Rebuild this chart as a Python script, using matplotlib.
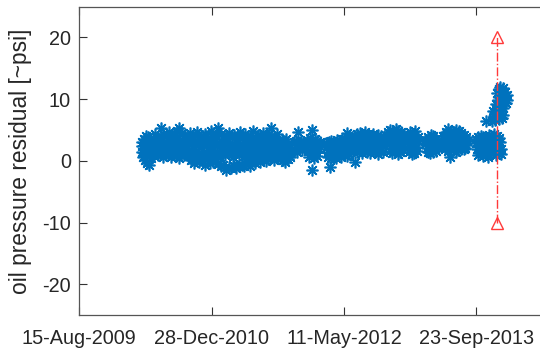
import numpy as np
import matplotlib
matplotlib.use("Agg")
import matplotlib.pyplot as plt
import matplotlib.dates as mdates

plt.rcParams['font.family'] = ['Liberation Sans', 'DejaVu Sans']
plt.rcParams['axes.unicode_minus'] = False

START = '2009-08-15'   # reference date; days below are counted from it

# ---- measured residuals, grouped by operating period (day offset, value) ----
days_c1 = [236, 244, 252, 260, 268, 276, 239, 247, 255, 263, 271, 279,
           237, 245, 253, 261, 269, 277, 241, 249, 257, 265, 273, 281]
resid_c1 = [3.0, 3.6, 4.1, 3.8, 3.4, 2.9, 2.4, 2.7, 2.9, 2.6, 2.8, 2.3,
            1.5, 1.2, 1.8, 1.4, 1.6, 1.3, 0.6, 0.2, -0.4, -0.7, 0.4, 0.8]

days_c2 = [288, 298, 308, 318, 328, 338, 348, 358, 368, 378, 388, 398, 408,
           291, 301, 311, 321, 331, 341, 351, 361, 371, 381, 391, 401, 411,
           294, 304, 314, 324, 334, 344, 354, 364, 374, 384, 394, 404, 414,
           296, 306, 316, 326, 336, 346, 356, 366, 376, 386, 396, 406, 412]
resid_c2 = [4.3, 3.9, 5.4, 4.4, 4.0, 4.6, 3.8, 4.2, 4.8, 5.3, 4.5, 4.1, 3.7,
            3.2, 2.8, 3.4, 3.0, 2.7, 3.3, 2.9, 3.1, 3.5, 2.8, 3.2, 3.0, 2.9,
            1.9, 2.2, 1.6, 2.0, 1.8, 2.3, 1.5, 2.1, 1.7, 2.4, 1.6, 2.0, 1.8,
            0.9, 1.2, 0.6, 1.0, 1.3, 0.7, 1.1, 0.8, 0.5, 1.0, 0.9, 1.2, 0.8]

days_c3 = [420, 426, 436, 446, 456, 466, 476, 486, 496, 506, 516, 526, 536, 546, 556, 566, 576,
           586, 596, 606, 616, 626, 636, 646, 656, 666, 676, 686, 696, 706, 716, 726, 736, 746,
           423, 429, 439, 449, 459, 469, 479, 489, 499, 509, 519, 529, 539, 549, 559, 569, 579,
           589, 599, 609, 619, 629, 639, 649, 659, 669, 679, 689, 699, 709, 719, 729, 739, 749,
           422, 432, 442, 452, 462, 472, 482, 492, 502, 512, 522, 532, 542, 552, 562, 572, 582,
           592, 602, 612, 622, 632, 642, 652, 662, 672, 682, 692, 702, 712, 722, 732, 742, 750,
           424, 434, 444, 454, 464, 474, 484, 494, 504, 514, 524, 534, 544, 554, 564, 574, 584,
           594, 604, 614, 624, 634, 644, 654, 664, 674, 684, 694, 704, 714, 724, 734, 744, 748]
resid_c3 = [4.5, 3.8, 4.2, 4.7, 3.6, 4.0, 4.4, 3.7, 4.9, 4.1, 4.1, 5.4, 4.3, 3.6, 4.0, 4.5, 3.8,
            4.2, 3.5, 4.6, 3.9, 4.4, 3.7, 4.1, 4.8, 3.6, 4.2, 4.0, 4.5, 3.8, 4.3, 5.4, 3.9, 4.4,
            2.9, 2.4, 3.1, 2.6, 2.2, 3.0, 2.7, 2.3, 2.8, 3.2, 2.5, 2.9, 2.1, 2.7, 3.0, 2.4, 2.8,
            2.2, 3.1, 2.6, 2.3, 2.9, 2.5, 3.0, 2.2, 2.7, 3.1, 2.4, 2.8, 3.2, 2.6, 2.9, 3.3, 3.0,
            1.3, 0.9, 1.6, 1.1, 0.7, 1.5, 1.2, 0.8, 1.7, 1.0, 1.4, 0.6, 1.3, 0.9, 1.6, 1.1, 0.7,
            1.4, 1.0, 1.5, 0.8, 1.2, 1.6, 0.9, 1.3, 1.1, 1.7, 1.0, 1.4, 1.2, 1.8, 1.5, 1.9, 1.6,
            0.2, -0.4, 0.5, -0.2, 0.1, -0.6, 0.3, -0.3, -0.1, 0.4, -0.5, -0.8, -0.7, -1.5, -1.0, -1.1, -0.9,
            -1.2, -0.8, -0.6, -0.9, 0.0, -0.8, 0.2, -0.3, 0.4, -0.1, 0.5, 0.0, 0.3, 0.6, 0.2, 0.8, 0.5]

days_c4 = [760, 766, 774, 782, 790, 761, 769, 777, 785, 793,
           762, 768, 776, 784, 792, 763, 771, 779, 787, 795]
resid_c4 = [2.9, 3.4, 3.2, 3.5, 2.8, 2.2, 2.5, 2.0, 2.4, 2.1,
            1.3, 0.9, 1.5, 1.1, 1.4, 0.5, 0.1, -0.1, 0.3, 0.6]

days_c5 = [812, 820, 828, 836, 844, 850, 816, 824, 832, 840, 848]
resid_c5 = [3.0, 3.3, 4.6, 3.2, 2.9, 2.5, 1.8, 1.5, 2.1, 1.7, 2.2]

days_c6 = [860, 870, 880, 890, 900, 908, 863, 873, 883, 893, 903,
           866, 876, 886, 896, 906, 868, 878, 888, 898]
resid_c6 = [3.4, 3.7, 5.0, 3.6, 3.2, 3.0, 2.6, 2.9, 2.4, 2.8, 2.5,
            1.6, 1.2, 1.8, 1.4, 1.9, 0.6, -1.4, 0.4, 0.8]

days_c7 = [932, 942, 952, 962, 972, 982, 992, 1002, 1012, 1022,
           935, 945, 955, 965, 975, 985, 995, 1005, 1015, 1025,
           938, 948, 958, 968, 978, 988, 998, 1008, 1018,
           940, 950, 960, 970, 980, 990, 1000, 1010, 1020, 946]
resid_c7 = [2.9, 3.1, 3.3, 3.0, 3.4, 3.2, 3.5, 3.6, 4.5, 3.7,
            2.3, 2.5, 2.2, 2.6, 2.4, 2.7, 2.5, 2.8, 2.6, 2.9,
            1.5, 1.2, 1.6, 1.3, 1.7, 1.4, 1.8, 1.5, 1.9,
            0.7, 0.4, 0.8, 0.5, 0.9, 0.6, 1.0, 0.8, 1.1, -1.0]

days_c8 = [1030, 1040, 1050, 1060, 1070, 1080, 1090, 1100, 1110, 1120, 1130, 1140, 1150,
           1033, 1043, 1053, 1063, 1073, 1083, 1093, 1103, 1113, 1123, 1133, 1143, 1153,
           1036, 1046, 1056, 1066, 1076, 1086, 1096, 1106, 1116, 1126, 1136, 1146, 1156,
           1038, 1048, 1058, 1068, 1078, 1088, 1098, 1108, 1118, 1128, 1138, 1148, 1041]
resid_c8 = [3.8, 4.1, 4.3, 4.5, 4.2, 4.6, 4.4, 4.1, 4.3, 3.9, 4.2, 4.0, 3.8,
            3.2, 3.5, 3.3, 3.7, 3.4, 3.6, 3.2, 3.5, 3.3, 3.6, 3.1, 3.4, 3.0,
            2.5, 2.8, 2.3, 2.7, 2.4, 2.9, 2.6, 2.3, 2.8, 2.5, 2.2, 2.6, 2.4,
            1.7, 1.4, 1.6, 1.3, 1.8, 1.5, 1.2, 1.7, 1.4, 1.1, 1.6, 1.5, -0.2]

days_c9 = [1165, 1175, 1185, 1195, 1205, 1215, 1225,
           1168, 1178, 1188, 1198, 1208, 1218, 1228,
           1171, 1181, 1191, 1201, 1211, 1221,
           1173, 1183, 1193, 1203, 1213, 1223]
resid_c9 = [4.6, 5.0, 4.8, 5.2, 4.9, 4.6, 4.3,
            3.8, 4.1, 3.6, 4.0, 3.7, 3.9, 3.5,
            2.7, 3.0, 2.5, 2.9, 2.6, 2.8,
            1.6, 1.3, 1.9, 1.1, 1.5, 1.8]

days_c10 = [1238, 1248, 1258, 1268, 1278, 1241, 1251, 1261, 1271, 1281,
            1244, 1254, 1264, 1274, 1246, 1256, 1266, 1276]
resid_c10 = [4.0, 4.6, 4.3, 4.8, 3.9, 3.3, 3.6, 3.1, 3.5, 3.2,
             2.4, 2.1, 2.6, 2.3, 1.5, 1.1, 1.3, 1.6]

days_c11 = [1308, 1318, 1328, 1338, 1348, 1356, 1311, 1321, 1331, 1341, 1351,
            1314, 1324, 1334, 1344, 1354, 1316, 1326, 1336, 1346]
resid_c11 = [3.4, 3.9, 4.2, 4.0, 3.6, 3.2, 2.9, 3.2, 3.0, 3.3, 2.8,
             2.1, 1.8, 2.3, 1.9, 2.2, 1.5, 1.2, 1.4, 1.6]

days_c12 = [1374, 1384, 1394, 1404, 1414, 1424, 1434, 1444, 1454, 1462,
            1377, 1387, 1397, 1407, 1417, 1427, 1437, 1447, 1457, 1465,
            1380, 1390, 1400, 1410, 1420, 1430, 1440, 1450, 1460,
            1382, 1392, 1402, 1412, 1422, 1432, 1442, 1452, 1458]
resid_c12 = [4.1, 4.7, 5.1, 4.9, 4.6, 5.0, 4.8, 4.5, 4.2, 3.8,
             3.6, 3.9, 3.7, 4.1, 3.8, 3.9, 3.5, 3.7, 3.4, 3.2,
             2.7, 2.5, 2.9, 2.6, 3.0, 2.5, 2.8, 2.4, 2.6,
             1.9, 1.6, 0.6, 1.7, 1.5, 1.8, 2.0, 1.9, 2.1]

days_c13 = [1497, 1507, 1517, 1527, 1537, 1547, 1557, 1567, 1577, 1587,
            1500, 1510, 1520, 1530, 1540, 1550, 1560, 1570, 1580, 1590,
            1503, 1513, 1523, 1533, 1543, 1553, 1563, 1573, 1583, 1593,
            1505, 1515, 1525, 1535, 1545, 1555, 1565, 1575, 1585, 1595]
resid_c13 = [3.5, 3.8, 4.1, 3.9, 6.4, 4.2, 4.0, 4.4, 4.1, 3.7,
             2.9, 3.2, 2.8, 3.3, 3.0, 3.4, 3.1, 3.5, 3.2, 3.0,
             2.0, 1.7, 2.2, 1.9, 2.3, 1.8, 2.1, 2.4, 2.2, 1.9,
             1.0, 1.3, 0.8, 1.1, 0.7, 1.2, 1.4, 1.0, 1.3, 1.1]

days_c14 = [1560, 1566, 1572, 1578, 1584, 1590, 1596, 1602,
            1563, 1569, 1575, 1581, 1587, 1593, 1599,
            1575, 1581, 1587, 1593, 1599, 1605, 1611, 1617,
            1578, 1584, 1590, 1596, 1602, 1608, 1614]
resid_c14 = [6.4, 7.2, 6.6, 7.5, 6.8, 7.6, 7.0, 7.4,
             8.0, 7.8, 8.4, 8.2, 8.6, 8.0, 8.5,
             9.2, 9.8, 10.4, 9.6, 10.8, 10.1, 9.4, 9.9,
             11.0, 11.6, 12.0, 11.4, 11.8, 11.2, 10.6]

# alarm marker
alarm_date = '2013-12-09'
alarm_range = [-10, 20]

# axis setup values
x_limits = ['2009-08-15', '2015-02-05']
x_ticks = ['2009-08-15', '2010-12-28', '2012-05-11', '2013-09-23', '2015-02-05']
y_limits = [-25, 25]
y_ticks = [-20, -10, 0, 10, 20]
y_label = 'oil pressure residual [~psi]'

all_days = (days_c1 + days_c2 + days_c3 + days_c4 + days_c5 + days_c6 + days_c7 +
            days_c8 + days_c9 + days_c10 + days_c11 + days_c12 + days_c13 + days_c14)
all_resid = (resid_c1 + resid_c2 + resid_c3 + resid_c4 + resid_c5 + resid_c6 + resid_c7 +
             resid_c8 + resid_c9 + resid_c10 + resid_c11 + resid_c12 + resid_c13 + resid_c14)

dates = np.datetime64(START) + np.array(all_days).astype('timedelta64[D]')

W, H = 540, 352
fig = plt.figure(figsize=(W / 100, H / 100), dpi=100)
left_px, right_px, top_px, bot_px = 79.2, 608.7, 6.5, 315.3
ax = fig.add_axes([left_px / W, 1 - bot_px / H, (right_px - left_px) / W, (bot_px - top_px) / H])

blue = '#0072BD'
ax.plot(dates, all_resid, linestyle='none', marker=(8, 2, 0), markersize=8.5,
        markeredgewidth=1.2, color=blue)

ad = np.datetime64(alarm_date)
ax.plot([ad, ad], alarm_range, linestyle='-.', color='#FF3A3A', linewidth=1.0,
        marker='^', markersize=9, markerfacecolor='none', markeredgewidth=1.0)

ax.set_xlim(np.datetime64(x_limits[0]), np.datetime64(x_limits[1]))
ax.set_ylim(*y_limits)
ax.set_xticks([np.datetime64(t) for t in x_ticks])
ax.xaxis.set_major_formatter(mdates.DateFormatter('%d-%b-%Y'))
ax.set_yticks(y_ticks)

gray = '#262626'
for s in ax.spines.values():
    s.set_color('#555555')
    s.set_linewidth(0.9)
ax.tick_params(which='both', direction='in', length=6, width=0.8, color='#333333',
               top=True, right=True, labelsize=14.3, labelcolor=gray)
ax.tick_params(axis='x', pad=10)
ax.tick_params(axis='y', pad=6)
ax.set_ylabel(y_label, fontsize=16.4, color=gray)
ax.yaxis.set_label_coords(-0.0891, 0.5)

fig.savefig('out.png', dpi=100)
